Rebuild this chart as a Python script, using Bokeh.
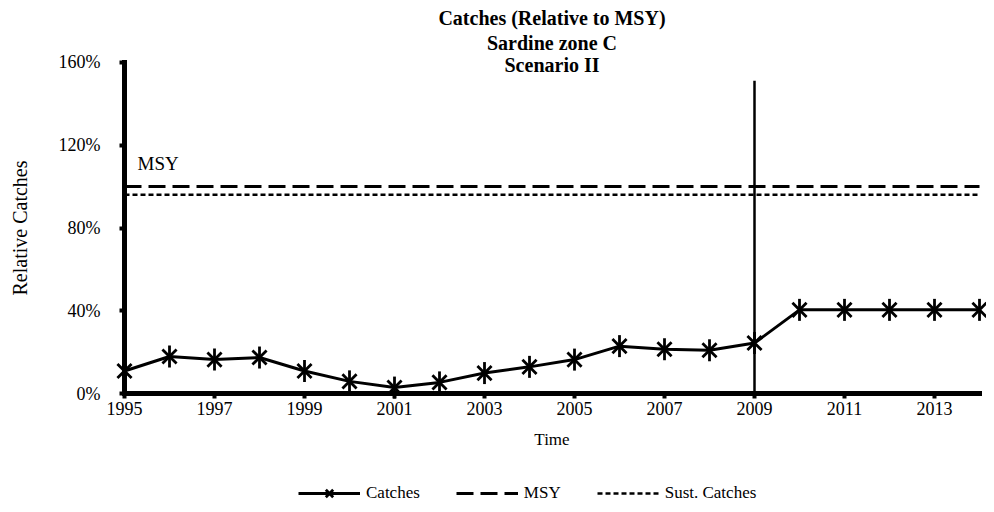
import math
from bokeh.plotting import figure
from bokeh.models import Range1d, Label, Legend, LegendItem, FixedTicker
from bokeh.embed import file_html
from bokeh.resources import INLINE

# ---- data ----
years = list(range(1995, 2015))
catches = [11, 18, 16.5, 17.5, 11, 6, 3, 5.5, 10, 13, 16.5, 23, 21.5, 21, 24.5,
           40.5, 40.5, 40.5, 40.5, 40.5]
msy_level = [100] * len(years)
sust_level = [96] * len(years)
vline_year = 2009
vline_top = 151
y_ticks = [0, 40, 80, 120, 160]
y_tick_labels = ["0%", "40%", "80%", "120%", "160%"]
x_ticks = [1995, 1997, 1999, 2001, 2003, 2005, 2007, 2009, 2011, 2013]
x_tick_labels = [str(t) for t in x_ticks]
title_lines = ["Catches (Relative to MSY)", "Sardine zone C", "Scenario II"]
msy_text = "MSY"

FONT = "Liberation Serif"
BLACK = "#000000"

W, H = 986, 506
# pixel scale: 45 px per year, 2.0725 px per percent point
p = figure(width=W, height=H, output_backend="svg", toolbar_location=None,
           x_range=Range1d(1995 - 124 / 45, 1995 + (W - 124) / 45),
           y_range=Range1d(-(H - 393.3) / 2.0725, 393.3 / 2.0725),
           min_border=0)
p.outline_line_color = None
p.grid.visible = False
p.title.visible = False

# axes drawn at the data origin
xa, ya = p.xaxis[0], p.yaxis[0]
xa.fixed_location = 0
ya.fixed_location = years[0]
xa.bounds = (years[0], years[-1])
ya.bounds = (y_ticks[0], y_ticks[-1])
xa.ticker = FixedTicker(ticks=x_ticks)
xa.major_label_overrides = {t: l for t, l in zip(x_ticks, x_tick_labels)}
ya.ticker = FixedTicker(ticks=y_ticks)
ya.major_label_overrides = {t: l for t, l in zip(y_ticks, y_tick_labels)}
for ax in (xa, ya):
    ax.axis_line_color = BLACK
    ax.axis_line_width = 5
    ax.axis_line_cap = "square"
    ax.major_tick_line_color = BLACK
    ax.major_tick_line_width = 4
    ax.major_tick_out = 5
    ax.major_tick_in = 0
    ax.minor_tick_line_color = None
    ax.major_label_text_font = FONT
    ax.major_label_text_font_size = "18px"
    ax.major_label_text_color = BLACK
    ax.axis_label_text_font = FONT
    ax.axis_label_text_font_style = "normal"
    ax.axis_label_text_color = BLACK
xa.axis_label = "Time"
ya.axis_label = "Relative Catches"
xa.axis_label_text_font_size = "17px"
ya.axis_label_text_font_size = "20px"
xa.major_label_standoff = 3
xa.axis_label_standoff = 12
ya.major_label_standoff = 19
ya.axis_label_standoff = 25

# series
r_msy = p.line(years, msy_level, line_color=BLACK, line_width=3, line_dash="17 7")
r_sust = p.line(years, sust_level, line_color=BLACK, line_width=2.5, line_dash="5 3")
p.segment(x0=[vline_year], y0=[0], x1=[vline_year], y1=[vline_top],
          line_color=BLACK, line_width=2.5)
r_line = p.line(years, catches, line_color=BLACK, line_width=3)
# star marker: an X plus a vertical stroke
r_x = p.scatter(years, catches, marker="x", size=20, line_color=BLACK, line_width=2.8)
r_d = p.scatter(years, catches, marker="dash", size=22, angle=math.pi / 2,
                line_color=BLACK, line_width=2.8)

# title lines
title_y = [181.1, 169.5, 158.6]
for t, ty in zip(title_lines, title_y):
    p.add_layout(Label(x=2004.5, y=ty, text=t, text_align="center",
                       text_baseline="middle", text_font=FONT, text_font_size="20px",
                       text_font_style="bold", text_color=BLACK))

p.add_layout(Label(x=1995.29, y=111, text=msy_text, text_align="left",
                   text_baseline="middle", text_font=FONT, text_font_size="19px",
                   text_color=BLACK))

legend = Legend(items=[
    LegendItem(label="Catches", renderers=[r_line, r_x, r_d]),
    LegendItem(label="MSY", renderers=[r_msy]),
    LegendItem(label="Sust. Catches", renderers=[r_sust]),
], orientation="horizontal", location=(298, 0))
legend.border_line_color = None
legend.background_fill_alpha = 0
legend.label_text_font = FONT
legend.label_text_font_size = "17px"
legend.label_text_color = BLACK
legend.glyph_width = 62
legend.glyph_height = 26
legend.label_height = 26
legend.label_standoff = 6
legend.spacing = 36
legend.padding = 0
legend.margin = 0
p.add_layout(legend)

open("out.html", "w").write(file_html(p, INLINE))
